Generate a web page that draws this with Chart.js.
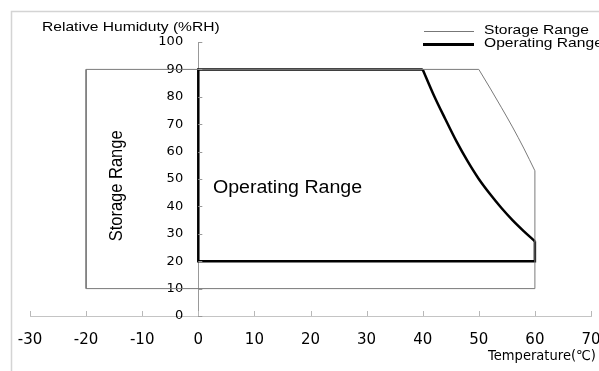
<!DOCTYPE html>
<html>
<head>
<meta charset="utf-8">
<script src="https://cdn.jsdelivr.net/npm/chart.js@4"></script>
<style>
html,body{margin:0;padding:0;background:#fff;}
#wrap{width:599px;height:371px;position:relative;}
</style>
</head>
<body>
<div id="wrap"><canvas id="chart"></canvas></div>
<script>

/* DATA */

const xTicks = [-30,-20,-10,0,10,20,30,40,50,60,70];
const yTicks = [0,10,20,30,40,50,60,70,80,90,100];

// storage range: straight edges + curved derating edge
const storageEdgeT  = [50,-20,-20,60,60];
const storageEdgeRH = [90,90,10,10,53];
const storageCurveT  = [50,52,54,56,58,60];
const storageCurveRH = [90,83.2,76.2,69,61.3,53];

// operating range
const operEdgeT  = [40,0,0,60,60];
const operEdgeRH = [90,90,20,20,27.3];
const operCurveT  = [40,42,44,46,48,50,52,54,56,58,60];
const operCurveRH = [90,80.5,72,63.8,56.5,50,44.5,39.5,35,31,27.3];

const legendLabels = ["Storage Range","Operating Range"];

function toPoints(xs, ys){
    return xs.map((x,i) => ({x:x, y:ys[i]}));
}

/* TEXT HELPER */

function drawText(ctx, txt, x, y, font, sx){
    ctx.save();
    ctx.font = font;
    ctx.fillStyle = "#000";
    ctx.textBaseline = "middle";
    ctx.textAlign = "left";
    ctx.translate(x, y);
    ctx.scale(sx, 1);
    ctx.fillText(txt, 0, 0);
    ctx.restore();
}

/* EXTRA DRAWING: frame, inner ticks, labels, legend */

const decorPlugin = {
    id: "decor",
    beforeDraw(chart){
        const ctx = chart.ctx;
        ctx.save();
        ctx.strokeStyle = "#d4d4d4";
        ctx.lineWidth = 1.5;
        ctx.beginPath();
        ctx.moveTo(11.5, 371);
        ctx.lineTo(11.5, 11.5);
        ctx.lineTo(599, 11.5);
        ctx.stroke();
        ctx.restore();
    },
    afterDraw(chart){
        const ctx = chart.ctx;
        const xs = chart.scales.x;
        const ys = chart.scales.y;
        const x0 = xs.getPixelForValue(0);
        const y0 = ys.getPixelForValue(0);

        ctx.save();
        ctx.lineWidth = 1;

        // x ticks pointing up
        ctx.strokeStyle = "#b8b8b8";
        xTicks.forEach(v => {
            const px = Math.round(xs.getPixelForValue(v)) + 0.5;
            ctx.beginPath();
            ctx.moveTo(px, y0);
            ctx.lineTo(px, y0 - 5);
            ctx.stroke();
        });

        // y ticks pointing right
        ctx.strokeStyle = "#999";
        yTicks.forEach(v => {
            const py = Math.round(ys.getPixelForValue(v)) + 0.5;
            ctx.beginPath();
            ctx.moveTo(x0, py);
            ctx.lineTo(x0 + 4, py);
            ctx.stroke();
        });
        ctx.restore();

        drawText(ctx, "Relative Humiduty (%RH)", 42, 27,
            "13px 'Liberation Sans', Arial, sans-serif", 1.2);

        drawText(ctx, "Temperature(\u2103)", 488, 356,
            "13.5px 'DejaVu Sans', sans-serif", 0.97);

        drawText(ctx, "Operating Range",
            xs.getPixelForValue(2.6), ys.getPixelForValue(46.8),
            "17.5px 'Liberation Sans', Arial, sans-serif", 1.12);

        // rotated storage label
        ctx.save();
        ctx.font = "16.5px 'Liberation Sans', Arial, sans-serif";
        ctx.fillStyle = "#000";
        ctx.textAlign = "center";
        ctx.textBaseline = "middle";
        ctx.translate(xs.getPixelForValue(-14.5), ys.getPixelForValue(47.5));
        ctx.scale(1.15, 1);
        ctx.rotate(-Math.PI/2);
        ctx.fillText("Storage Range", 0, 0);
        ctx.restore();

        // legend
        ctx.save();
        ctx.strokeStyle = "#777";
        ctx.lineWidth = 1;
        ctx.beginPath();
        ctx.moveTo(424, 31.5);
        ctx.lineTo(474, 31.5);
        ctx.stroke();
        ctx.strokeStyle = "#000";
        ctx.lineWidth = 3;
        ctx.beginPath();
        ctx.moveTo(423, 44.5);
        ctx.lineTo(474, 44.5);
        ctx.stroke();
        ctx.restore();

        drawText(ctx, legendLabels[0], 484, 30.5,
            "13px 'Liberation Sans', Arial, sans-serif", 1.2);
        drawText(ctx, legendLabels[1], 484, 43.5,
            "13px 'Liberation Sans', Arial, sans-serif", 1.2);
    }
};

/* CHART */

const thin = {
    borderColor: "#7a7a7a",
    borderWidth: 1,
    pointRadius: 0,
    showLine: true,
    fill: false
};

const thick = {
    borderColor: "#000",
    borderWidth: 2.5,
    pointRadius: 0,
    showLine: true,
    fill: false
};

const tickFont = {family: "'DejaVu Sans', sans-serif", size: 13};

new Chart(document.getElementById("chart"), {
    type: "scatter",
    data: {
        datasets: [
            Object.assign({label: legendLabels[0], data: toPoints(storageEdgeT, storageEdgeRH), tension: 0}, thin),
            Object.assign({label: legendLabels[0], data: toPoints(storageCurveT, storageCurveRH), cubicInterpolationMode: "monotone"}, thin),
            Object.assign({label: legendLabels[1], data: toPoints(operEdgeT, operEdgeRH), tension: 0, borderJoinStyle: "miter"}, thick),
            Object.assign({label: legendLabels[1], data: toPoints(operCurveT, operCurveRH), cubicInterpolationMode: "monotone"}, thick)
        ]
    },
    options: {
        responsive: true,
        maintainAspectRatio: false,
        animation: false,
        layout: {
            padding: {left: 30, right: 8, top: 42, bottom: 0}
        },
        plugins: {
            legend: {display: false},
            tooltip: {enabled: false}
        },
        scales: {
            x: {
                type: "linear",
                min: -30,
                max: 70,
                afterFit: function(scale){
                    scale.height = 55;
                    scale.paddingLeft = 0;
                    scale.paddingRight = 0;
                },
                afterBuildTicks: function(scale){
                    scale.ticks = xTicks.map(v => ({value: v}));
                },
                grid: {display: false, drawTicks: false},
                border: {display: true, color: "#c4c4c4", width: 1},
                ticks: {
                    padding: 15,
                    color: "#000",
                    font: {family: "'DejaVu Sans', sans-serif", size: 15}
                }
            },
            // axis line at T = 0
            y: {
                type: "linear",
                position: {x: 0},
                min: 0,
                max: 100,
                afterBuildTicks: function(scale){
                    scale.ticks = yTicks.map(v => ({value: v}));
                },
                grid: {display: false, drawTicks: false},
                border: {display: true, color: "#999", width: 1},
                ticks: {display: false}
            },
            // tick labels, set a little left of the axis line
            yl: {
                type: "linear",
                position: {x: -2.7},
                min: 0,
                max: 100,
                afterBuildTicks: function(scale){
                    scale.ticks = yTicks.map(v => ({value: v}));
                },
                grid: {display: false, drawTicks: false},
                border: {display: false},
                ticks: {
                    color: "#000",
                    font: tickFont
                }
            }
        }
    },
    plugins: [decorPlugin]
});

</script>
</body>
</html>
